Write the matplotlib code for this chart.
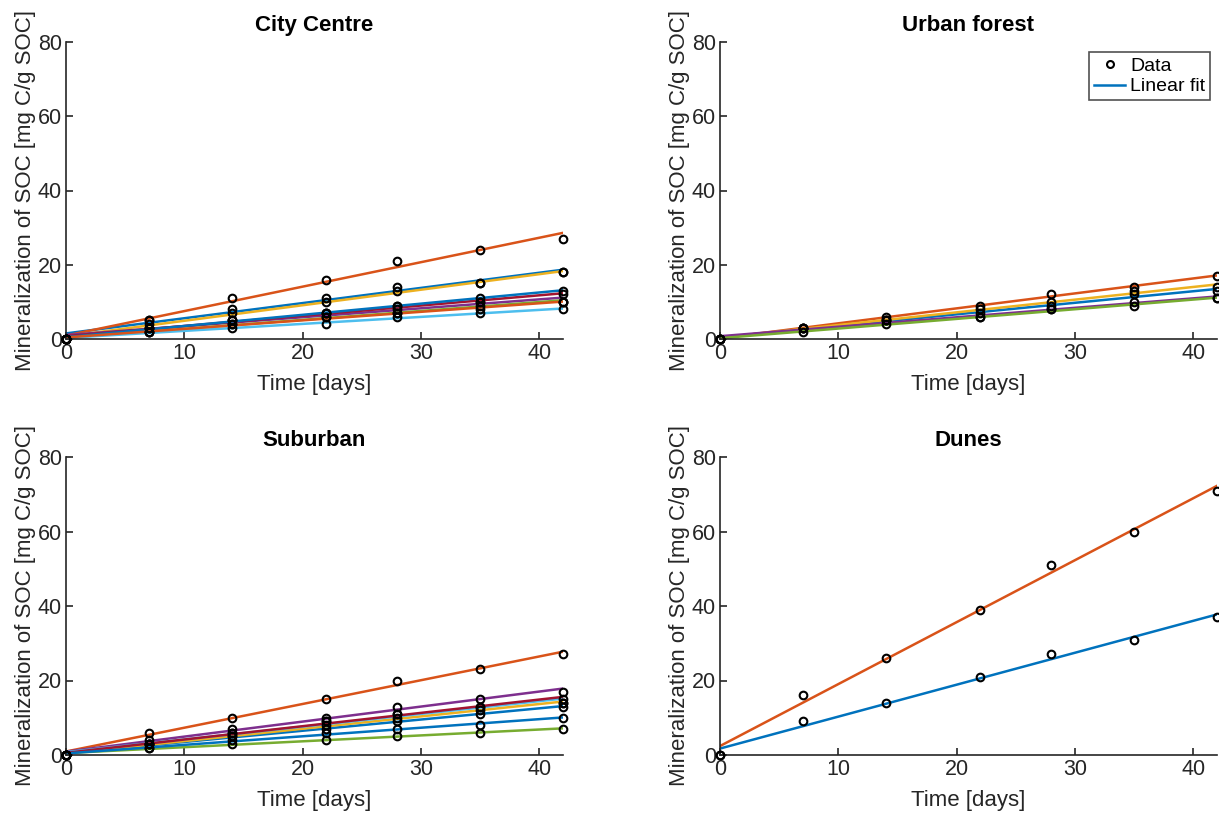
import matplotlib
matplotlib.use("Agg")
import matplotlib.pyplot as plt
import numpy as np
from matplotlib.lines import Line2D

plt.rcParams['font.family'] = ['Liberation Sans', 'DejaVu Sans']

# sampling days
days = [0, 7, 14, 22, 28, 35, 42]

# City Centre series (mg C / g SOC)
city_centre = [
    [0, 5, 8, 11, 14, 15, 18],
    [0, 5, 11, 16, 21, 24, 27],
    [0, 4, 7, 10, 13, 15, 18],
    [0, 3, 5, 7, 8, 10, 10],
    [0, 2, 4, 6, 7, 9, 10],
    [0, 2, 3, 4, 6, 7, 8],
    [0, 3, 5, 7, 9, 10, 12],
    [0, 3, 5, 7, 9, 11, 13],
    [0, 2, 4, 6, 7, 8, 10],
]

# Urban forest series
urban_forest = [
    [0, 3, 5, 7, 9, 12, 13],
    [0, 3, 6, 9, 12, 14, 17],
    [0, 3, 5, 8, 10, 13, 14],
    [0, 3, 5, 6, 8, 10, 11],
    [0, 2, 4, 6, 8, 9, 11],
]

# Suburban series
suburban = [
    [0, 3, 5, 7, 9, 11, 13],
    [0, 6, 10, 15, 20, 23, 27],
    [0, 3, 5, 8, 10, 12, 14],
    [0, 4, 7, 10, 13, 15, 17],
    [0, 2, 3, 4, 5, 6, 7],
    [0, 3, 6, 9, 11, 13, 14],
    [0, 3, 6, 9, 11, 13, 15],
    [0, 2, 4, 6, 7, 8, 10],
]

# Dunes series
dunes = [
    [0, 9, 14, 21, 27, 31, 37],
    [0, 16, 26, 39, 51, 60, 71],
]

titles = ['City Centre', 'Urban forest', 'Suburban', 'Dunes']
panels = [city_centre, urban_forest, suburban, dunes]

# MATLAB default colour order
colors = ['#0072BD', '#D95319', '#EDB120', '#7E2F8E',
          '#77AC30', '#4DBEEE', '#A2142F']

axcol = '#262626'

fig = plt.figure(figsize=(12.19, 8.16), dpi=100)
W, H = 1219.0, 816.0
boxes = [(66, 42, 497, 297), (720, 42, 497, 297),
         (66, 457, 497, 298), (720, 457, 497, 298)]

x = np.array(days, dtype=float)
xfit = np.array([0.0, 42.0])

for k, (title, series) in enumerate(zip(titles, panels)):
    l, t, w, h = boxes[k]
    ax = fig.add_axes([l / W, 1 - (t + h) / H, w / W, h / H])
    for i, y in enumerate(series):
        y = np.array(y, dtype=float)
        ax.plot(x, y, 'o', mfc='none', mec='black', ms=5.5, mew=1.5,
                clip_on=False, zorder=3)
        p = np.polyfit(x, y, 1)                     # linear fit of each series
        ax.plot(xfit, np.polyval(p, xfit), '-', color=colors[i % 7],
                lw=1.8, zorder=2)
    ax.set_xlim(0, 42)
    ax.set_ylim(0, 80)
    ax.set_xticks([0, 10, 20, 30, 40])
    ax.set_yticks([0, 20, 40, 60, 80])
    ax.spines['top'].set_visible(False)
    ax.spines['right'].set_visible(False)
    for s in ['left', 'bottom']:
        ax.spines[s].set_color(axcol)
        ax.spines[s].set_linewidth(1.2)
    ax.tick_params(direction='in', length=5, width=1.2, color=axcol,
                   labelcolor=axcol, labelsize=15.5, pad=3)
    ax.set_xlabel('Time [days]', fontsize=16, color=axcol, labelpad=7)
    ax.set_ylabel('Mineralization of SOC [mg C/g SOC]', fontsize=16,
                  color=axcol, labelpad=1)
    ax.set_title(title, fontsize=16, fontweight='bold', pad=8)

    if k == 1:
        handles = [Line2D([], [], ls='none', marker='o', mfc='none',
                          mec='black', ms=5, mew=1.5),
                   Line2D([], [], color=colors[0], lw=1.8)]
        leg = ax.legend(handles, ['Data', 'Linear fit'], loc='upper right',
                        bbox_to_anchor=(0.986, 0.965), fontsize=14,
                        frameon=True, fancybox=False, handlelength=1.6,
                        handletextpad=0.25, borderpad=0.25, labelspacing=0.15,
                        borderaxespad=0)
        leg.get_frame().set_edgecolor(axcol)
        leg.get_frame().set_linewidth(1.2)

fig.savefig('out.png', dpi=100)
